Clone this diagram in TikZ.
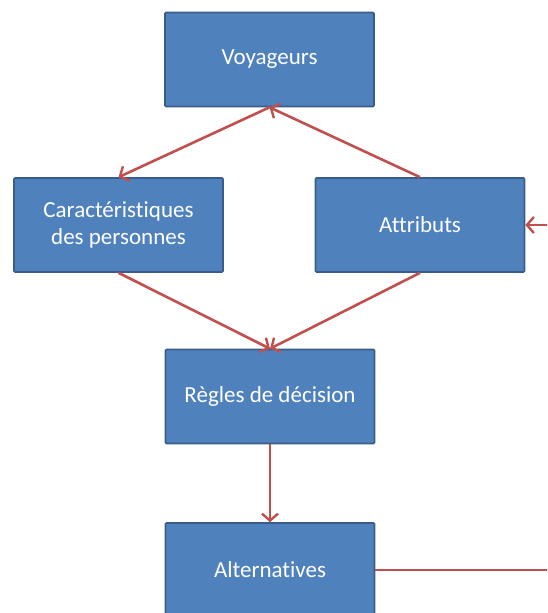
\documentclass[tikz,border=0pt]{standalone}
\usepackage{fontspec}
\setmainfont{Carlito}[Ligatures=NoCommon]
\usetikzlibrary{arrows.meta}
\definecolor{boxfill}{HTML}{4F81BD}
\definecolor{boxline}{HTML}{385D8A}
\definecolor{linkred}{HTML}{C0504D}
\tikzset{
  box/.style={draw=boxline, fill=boxfill, line width=1.6pt, minimum width=209pt,
    minimum height=94pt, inner sep=2pt, align=center, text=white,
    font=\fontsize{23}{27}\selectfont, rounded corners=1pt},
  link/.style={draw=linkred, line width=2.6pt,
    -{Straight Barb[length=7pt,width=16pt,line width=2.4pt]}}
}
\begin{document}
\begin{tikzpicture}[x=1pt,y=-1pt]
\useasboundingbox (0,0) rectangle (547,613);
\clip (0,0) rectangle (547,613);
\node[box] (voy) at (269.5,59.5) {Voyageurs};
\node[box] (car) at (118.5,225) {Caractéristiques\\des personnes};
\node[box] (att) at (420,225) {Attributs};
\node[box] (reg) at (270,396.5) {Règles de décision};
\node[box] (alt) at (270,570) {Alternatives};
\draw[link] (voy.south) -- (car.north);
\draw[link] (att.north) -- (voy.south);
\draw[link] (car.south) -- (reg.north);
\draw[link] (att.south) -- (reg.north);
\draw[link] (reg.south) -- (alt.north);
\draw[link] (alt.east) -- ++(200,0) |- (att.east);
\end{tikzpicture}
\end{document}
